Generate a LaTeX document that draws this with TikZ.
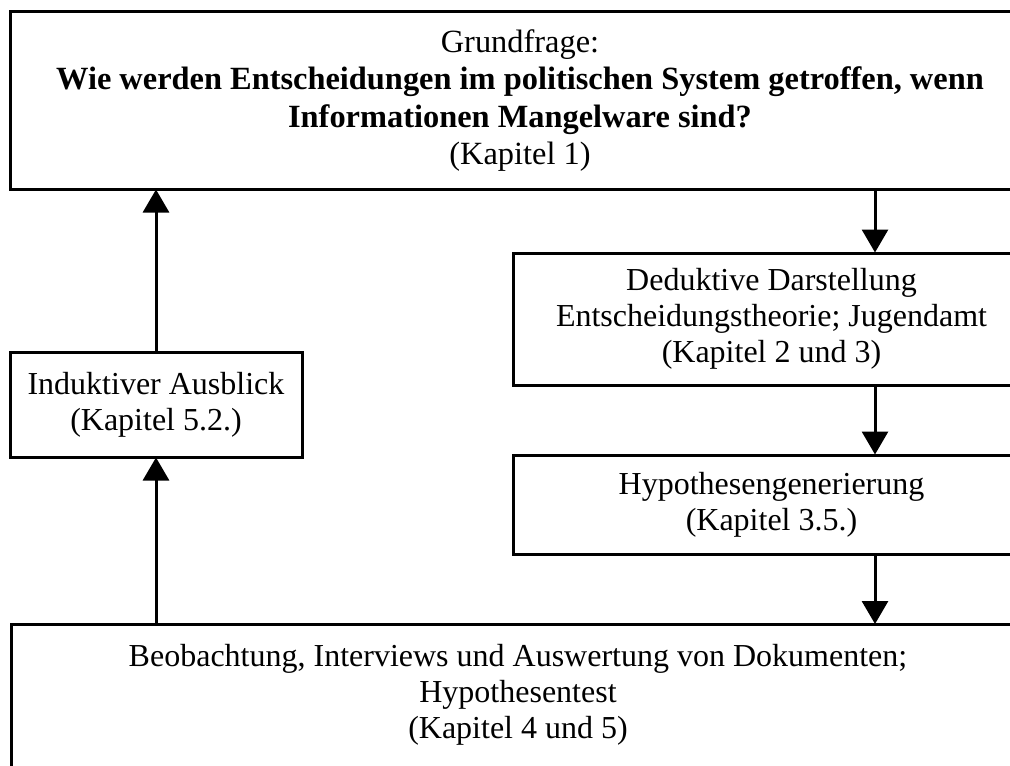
\documentclass[tikz,border=0pt]{standalone}
\usepackage{fontspec}
\setmainfont{Liberation Serif}
\usetikzlibrary{arrows.meta}
\begin{document}
\begin{tikzpicture}[x=0.5pt,y=-0.5pt,
  box/.style={draw=black, line width=1.5pt, rectangle, inner sep=0pt, align=center,
    font=\fontsize{16pt}{18pt}\selectfont},
  arr/.style={line width=1.5pt, -{Triangle[width=13pt,length=11.5pt]}, shorten >=-0.5pt}]
\useasboundingbox (0,0) rectangle (1010,765);
\clip (0,0) rectangle (1010,765);
\node[box, minimum width=510pt, minimum height=88.5pt, font=\fontsize{16.2pt}{18.8pt}\selectfont] (top) at (520,100.5)
  {Grundfrage:\\\textbf{Wie werden Entscheidungen im politischen System getroffen, wenn}\\\textbf{Informationen Mangelware sind?}\\(Kapitel 1)};
\node[box, minimum width=258.5pt, minimum height=66pt] (ded) at (771.5,319)
  {Deduktive Darstellung\\Entscheidungstheorie; Jugendamt\\(Kapitel 2 und 3)};
\node[box, minimum width=258.5pt, minimum height=49.5pt] (hyp) at (771.5,504.5)
  {Hypothesengenerierung\\(Kapitel 3.5.)};
\node[box, minimum width=510pt, minimum height=88.5pt, anchor=north west] (bot) at (10,623)
  {};
\node[font=\fontsize{16pt}{18pt}\selectfont, align=center, anchor=north] (bottxt) at (518,637)
  {Beobachtung, Interviews und Auswertung von Dokumenten;\\Hypothesentest\\(Kapitel 4 und 5)};
\node[box, minimum width=146pt, minimum height=52.5pt] (ind) at (156,404.5)
  {Induktiver Ausblick\\(Kapitel 5.2.)};
\coordinate (rx) at (875,0);
\draw[arr] (top.south -| rx) -- (ded.north -| rx);
\draw[arr] (ded.south -| rx) -- (hyp.north -| rx);
\draw[arr] (hyp.south -| rx) -- (bot.north -| rx);
\draw[arr] (bot.north -| ind.north) -- (ind.south);
\draw[arr] (ind.north) -- (top.south -| ind.north);
\end{tikzpicture}
\end{document}
